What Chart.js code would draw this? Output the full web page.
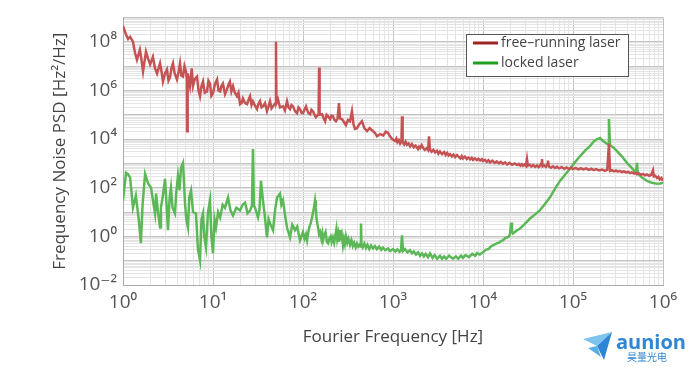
<!DOCTYPE html>
<html>
<head>
<meta charset="utf-8">
<script src="https://cdn.jsdelivr.net/npm/chart.js@4/dist/chart.umd.min.js"></script>
<style>
  html, body { margin: 0; padding: 0; background: #fff; }
  #wrap { width: 692px; height: 371px; }
</style>
</head>
<body>
<div id="wrap"><canvas id="psd-chart" width="692" height="371"></canvas></div>
<script>
// free-running laser (Hz, Hz^2/Hz)
const freqFree = [
    1, 1.08, 1.14, 1.2, 1.29, 1.36, 1.43, 1.54, 1.6, 1.67,
    1.8, 1.9, 2.0, 2.15, 2.27, 2.39, 2.58, 2.68, 2.78, 2.93,
    3.08, 3.2, 3.33, 3.45, 3.59, 3.75, 3.98, 4.15, 4.3, 4.45,
    4.64, 4.82, 5.01, 5.12, 5.15, 5.19, 5.27, 5.55, 5.8, 5.99,
    6.3, 6.64, 6.9, 7.17, 7.45, 7.74, 8.1, 8.58, 8.9, 9.26,
    9.6, 10, 10.5, 11.1, 11.5, 12.0, 12.4, 12.9, 13.6, 14.3,
    14.9, 15.4, 16.0, 16.7, 17.5, 18.5, 19.2, 20.0, 20.8, 21.5,
    22.7, 23.9, 24.8, 25.8, 26.8, 27.8, 29.2, 30.8, 32.0, 33.3,
    34.6, 35.9, 37.8, 39.8, 41.4, 43.0, 44.7, 46.4, 48.2, 49.5,
    50.1, 50.7, 52.7, 55.5, 59.9, 63.0, 66.4, 69.0, 71.7, 74.5,
    77.4, 81.5, 85.8, 89.0, 92.6, 96.2, 100, 104, 108, 114,
    120, 124, 129, 134, 139, 146, 149, 151, 153, 163,
    170, 176, 183, 190, 200, 207, 215, 224, 233, 242,
    251, 258, 271, 285, 300, 316, 333, 350, 364, 378,
    398, 420, 452, 480, 514, 550, 599, 630, 664, 720,
    780, 830, 880, 926, 980, 1052, 1090, 1120, 1160, 1200,
    1240, 1259, 1280, 1330, 1380, 1431, 1490, 1550, 1620, 1700,
    1780, 1896, 1950, 2000, 2080, 2154, 2250, 2350, 2450, 2512,
    2580, 2680, 2800, 2930, 3084, 3200, 3327, 3500, 3700, 3850,
    4000, 4150, 4300, 4500, 4700, 4900, 5140, 5350, 5600, 5800,
    5990, 6300, 6600, 6900, 7200, 7500, 7740, 8100, 8580, 8900,
    9300, 9700, 1.0e4, 1.05e4, 1.1e4, 1.15e4, 1.2e4, 1.27e4, 1.35e4, 1.42e4,
    1.5e4, 1.58e4, 1.67e4, 1.76e4, 1.85e4, 1.97e4, 2.1e4, 2.25e4, 2.39e4, 2.5e4,
    2.6e4, 2.7e4, 2.78e4, 2.9e4, 3.0e4, 3.08e4, 3.15e4, 3.3e4, 3.45e4, 3.6e4,
    3.8e4, 3.98e4, 4.15e4, 4.3e4, 4.45e4, 4.52e4, 4.6e4, 4.8e4, 5.0e4, 5.15e4,
    5.27e4, 5.4e4, 5.7e4, 6.0e4, 6.3e4, 6.64e4, 7.0e4, 7.5e4, 8.0e4, 8.5e4,
    9.0e4, 9.5e4, 1.0e5, 1.07e5, 1.15e5, 1.22e5, 1.3e5, 1.4e5, 1.5e5, 1.6e5,
    1.7e5, 1.8e5, 1.95e5, 2.1e5, 2.25e5, 2.4e5, 2.51e5, 2.58e5, 2.7e5, 2.85e5,
    3.0e5, 3.15e5, 3.3e5, 3.5e5, 3.7e5, 3.9e5, 4.1e5, 4.3e5, 4.5e5, 4.8e5,
    5.0e5, 5.14e5, 5.4e5, 5.7e5, 6.0e5, 6.3e5, 6.64e5, 7.0e5, 7.4e5, 7.74e5,
    7.9e5, 8.2e5, 8.58e5, 8.9e5, 9.2e5, 9.6e5, 1.0e6
];
const psdFree = [
    4.5e8, 2.0e8, 1.3e8, 1.6e8, 1.0e8, 3.5e7, 1.8e7, 4.7e7, 2.0e7, 6.0e6,
    3.9e7, 2.0e7, 1.15e7, 2.4e7, 8.0e6, 4.9e6, 1.3e7, 6.0e6, 2.3e6, 5.0e6,
    7.2e6, 2.5e6, 3.4e6, 8.0e6, 1.3e7, 5.0e6, 2.8e6, 6.0e6, 1.3e7, 4.0e6,
    3.7e6, 1.0e7, 6.0e6, 3.0e6, 2.1e4, 2.5e6, 4.9e6, 1.5e6, 8.0e6, 1.5e6,
    3.0e6, 3.7e6, 1.0e6, 5.7e5, 1.5e6, 2.3e6, 8.0e5, 9.1e5, 2.5e6, 1.9e6,
    6.0e5, 7.6e5, 1.8e6, 2.8e6, 1.0e6, 9.1e5, 1.5e6, 1.9e6, 7.0e5, 1.1e6,
    1.8e6, 2.3e6, 9.0e5, 1.5e6, 8.0e5, 5.7e5, 8.0e5, 2.7e5, 3.0e5, 4.7e5,
    3.0e5, 2.7e5, 4.0e5, 5.7e5, 2.5e5, 3.6e5, 2.4e5, 1.7e5, 2.8e5, 3.6e5,
    2.0e5, 2.2e5, 3.0e5, 1.4e5, 2.2e5, 3.6e5, 1.8e5, 2.2e5, 2.7e5, 3.0e5,
    1.0e8, 3.0e5, 4.3e5, 2.0e5, 2.2e5, 1.5e5, 3.6e5, 2.0e5, 1.7e5, 2.5e5,
    2.2e5, 1.4e5, 1.15e5, 2.0e5, 1.7e5, 1.2e5, 1.15e5, 1.6e5, 2.2e5, 1.2e5,
    1.05e5, 1.6e5, 1.4e5, 1.0e5, 7.9e4, 1.0e5, 1.1e5, 8.7e6, 1.0e5, 1.05e5,
    7.0e4, 5.4e4, 1.0e5, 8.7e4, 6.6e4, 9.0e4, 8.7e4, 6.0e4, 5.4e4, 7.0e4,
    3.0e5, 7.0e4, 6.6e4, 5.0e4, 3.7e4, 6.0e4, 5.4e4, 1.4e5, 4.0e4, 2.6e4,
    2.8e4, 4.0e4, 5.4e4, 2.8e4, 2.1e4, 2.8e4, 2.1e4, 1.8e4, 1.3e4, 1.6e4,
    1.4e4, 2.0e4, 1.8e4, 1.3e4, 1.0e4, 8.3e3, 1.05e4, 7.5e3, 9.0e3, 6.5e3,
    8.0e3, 8.7e4, 7.5e3, 6.0e3, 7.8e3, 5.8e3, 6.6e3, 5.0e3, 6.2e3, 4.6e3,
    5.4e3, 3.9e3, 4.8e3, 4.3e3, 5.6e3, 4.4e3, 3.6e3, 4.2e3, 3.5e3, 1.3e4,
    3.6e3, 3.0e3, 3.6e3, 2.8e3, 3.3e3, 2.5e3, 3.1e3, 2.4e3, 2.9e3, 2.2e3,
    2.7e3, 2.1e3, 2.4e3, 1.9e3, 2.3e3, 1.8e3, 2.2e3, 1.9e3, 1.6e3, 2.0e3,
    1.6e3, 1.9e3, 1.5e3, 1.75e3, 1.45e3, 1.7e3, 1.4e3, 1.6e3, 1.35e3, 1.55e3,
    1.3e3, 1.5e3, 1.25e3, 1.4e3, 1.15e3, 1.35e3, 1.1e3, 1.3e3, 1.05e3, 1.2e3,
    1.0e3, 1.15e3, 9.5e2, 1.1e3, 9.0e2, 1.05e3, 8.8e2, 1.0e3, 8.5e2, 9.5e2,
    8.0e2, 9.2e2, 8.0e2, 9.0e2, 7.8e2, 1.5e3, 8.0e2, 8.8e2, 7.4e2, 8.5e2,
    7.2e2, 8.2e2, 7.0e2, 8.0e2, 1.0e3, 1.5e3, 7.5e2, 8.2e2, 7.2e2, 9.0e2,
    1.3e3, 7.4e2, 6.6e2, 7.5e2, 6.4e2, 7.2e2, 6.2e2, 7.0e2, 6.0e2, 6.8e2,
    5.9e2, 6.6e2, 5.8e2, 6.5e2, 5.7e2, 6.3e2, 5.6e2, 6.2e2, 5.4e2, 6.0e2,
    5.3e2, 5.8e2, 5.1e2, 5.6e2, 4.9e2, 5.4e2, 6.3e3, 4.9e2, 5.3e2, 4.7e2,
    5.1e2, 4.6e2, 4.9e2, 4.4e2, 4.7e2, 4.2e2, 4.5e2, 4.0e2, 4.3e2, 3.8e2,
    4.1e2, 3.6e2, 3.9e2, 3.4e2, 3.7e2, 3.2e2, 3.5e2, 3.1e2, 3.4e2, 5.2e2,
    2.9e2, 3.1e2, 2.5e2, 2.8e2, 2.2e2, 2.5e2, 1.9e2
];

// locked laser
const freqLocked = [
    1, 1.08, 1.14, 1.2, 1.29, 1.39, 1.5, 1.58, 1.65, 1.76,
    1.9, 2.05, 2.15, 2.27, 2.33, 2.45, 2.58, 2.64, 2.78, 2.93,
    3.05, 3.16, 3.3, 3.41, 3.55, 3.78, 3.9, 4.08, 4.25, 4.41,
    4.64, 4.89, 5.05, 5.27, 5.45, 5.7, 6.0, 6.47, 6.8, 7.17,
    7.45, 7.74, 8.0, 8.36, 8.8, 9.26, 9.6, 10, 10.4, 10.8,
    11.4, 12.0, 12.8, 13.6, 14.7, 15.6, 16.7, 18.2, 20.0, 21.3,
    22.7, 24.2, 25.8, 27.1, 27.8, 28.5, 29.3, 31.6, 32.8, 34.1,
    35.9, 37.5, 39.8, 41.5, 43.0, 46.4, 49.0, 51.4, 55.5, 57.5,
    59.9, 63.0, 66.4, 71.7, 76.0, 81.5, 86.0, 92.6, 100, 104,
    108, 111, 115, 118, 122, 126, 131, 136, 139, 141,
    144, 147, 151, 155, 160, 164, 167, 172, 178, 184,
    190, 196, 203, 208, 215, 222, 228, 235, 240, 246,
    252, 258, 264, 270, 278, 285, 292, 300, 310, 320,
    333, 345, 358, 370, 385, 398, 412, 425, 436, 441,
    446, 460, 480, 500, 520, 545, 570, 599, 630, 660,
    700, 740, 774, 820, 880, 930, 1000, 1060, 1120, 1180,
    1227, 1259, 1292, 1360, 1450, 1540, 1620, 1700, 1800, 1900,
    1995, 2100, 2200, 2300, 2450, 2578, 2750, 2900, 3100, 3327,
    3500, 3700, 3900, 4200, 4642, 5000, 5300, 5700, 5990, 6400,
    7000, 7600, 8200, 8580, 9200, 1.0e4, 1.07e4, 1.15e4, 1.22e4, 1.29e4,
    1.4e4, 1.5e4, 1.6e4, 1.67e4, 1.76e4, 1.85e4, 1.95e4, 2.0e4, 2.05e4, 2.1e4,
    2.15e4, 2.35e4, 2.58e4, 2.9e4, 3.33e4, 3.8e4, 4.3e4, 4.9e4, 5.55e4, 6.3e4,
    7.17e4, 8.2e4, 9.26e4, 1.05e5, 1.2e5, 1.37e5, 1.55e5, 1.7e5, 1.85e5, 2.0e5,
    2.15e5, 2.3e5, 2.45e5, 2.51e5, 2.58e5, 2.8e5, 3.08e5, 3.5e5, 3.98e5, 4.5e5,
    5.0e5, 5.14e5, 5.25e5, 5.8e5, 6.64e5, 7.5e5, 8.58e5, 9.3e5, 1.0e6
];
const psdLocked = [
    30, 410, 350, 260, 15, 47, 4.5, 0.52, 20, 370,
    150, 100, 30, 8.7, 57, 10, 2.3, 15, 50, 230,
    20, 1.8, 40, 100, 15, 8.7, 60, 310, 80, 660,
    1050, 22, 5, 2.3, 40, 76, 10, 8.7, 0.3, 0.105,
    5, 8.7, 1.0, 0.36, 10, 30, 1.0, 0.2, 5, 2.3,
    10, 6.0, 20, 15, 39, 12, 7.2, 15, 11.5, 20,
    24, 9, 11.5, 18, 3900, 18, 15, 6.0, 12, 190,
    30, 8, 0.91, 5, 3.4, 1.8, 12, 39, 57, 20,
    30, 8, 2.3, 0.91, 3, 1.8, 2.5, 0.69, 1.5, 0.8,
    1.2, 0.7, 1.6, 2.5, 3.5, 6.0, 12, 30, 15, 6,
    3.5, 2.3, 1.2, 1.5, 0.8, 1.3, 0.7, 1.1, 1.5, 0.6,
    0.52, 0.8, 1.0, 0.6, 0.91, 0.55, 1.0, 2.0, 0.8, 1.3,
    0.6, 1.8, 0.7, 1.1, 0.43, 0.8, 0.5, 1.0, 0.55, 0.8,
    0.45, 0.7, 0.4, 0.55, 0.35, 0.5, 0.38, 0.45, 0.38, 3.4,
    0.45, 0.35, 0.5, 0.33, 0.45, 0.3, 0.42, 0.32, 0.4, 0.3,
    0.38, 0.28, 0.35, 0.27, 0.32, 0.25, 0.3, 0.24, 0.29, 0.23,
    0.27, 1.1, 0.25, 0.3, 0.22, 0.27, 0.2, 0.24, 0.18, 0.22,
    0.16, 0.2, 0.15, 0.19, 0.14, 0.2, 0.13, 0.17, 0.12, 0.16,
    0.12, 0.15, 0.12, 0.16, 0.12, 0.15, 0.12, 0.16, 0.13, 0.17,
    0.14, 0.19, 0.16, 0.21, 0.18, 0.22, 0.28, 0.3, 0.38, 0.43,
    0.5, 0.55, 0.65, 0.69, 0.85, 0.9, 1.0, 1.3, 3.7, 1.6,
    1.3, 1.7, 2.1, 3.2, 5.4, 8, 12, 22, 40, 90,
    190, 350, 600, 1100, 2000, 3400, 5200, 8000, 1.0e4, 1.1e4,
    8300, 7000, 6000, 6.6e4, 5500, 4500, 3200, 1900, 1050, 650,
    410, 1050, 380, 270, 190, 160, 145, 150, 160
];

const xDecades = [0, 1, 2, 3, 4, 5, 6];
const yDecades = [-2, -1, 0, 1, 2, 3, 4, 5, 6, 7, 8, 9];
const yLabelled = [-2, 0, 2, 4, 6, 8];

const legendLabels = ['free\u2013running laser', 'locked laser'];

const sup = {'0': '\u2070', '1': '\u00b9', '2': '\u00b2', '3': '\u00b3', '4': '\u2074', '5': '\u2075',
    '6': '\u2076', '7': '\u2077', '8': '\u2078', '9': '\u2079', '-': '\u207b'};
function pow10Label(v) {
    const e = Math.round(Math.log10(v));
    return '10' + String(e).split('').map(c => sup[c]).join('');
}
function isDecade(v) {
    return Math.abs(Math.log10(v) - Math.round(Math.log10(v))) < 1e-6;
}
function gridTicks(decades) {
    const out = [];
    decades.forEach((d, i) => {
        const last = i === decades.length - 1;
        for (let m = 1; m <= (last ? 1 : 9); m++) out.push({value: m * Math.pow(10, d)});
    });
    return out;
}

const FONT = "'Open Sans', 'DejaVu Sans', sans-serif";

const legendBox = {
    id: 'legendBox',
    afterDatasetsDraw(chart) {
        const ctx = chart.ctx;
        ctx.save();
        ctx.fillStyle = '#fff';
        ctx.fillRect(466, 34, 162, 42);
        ctx.strokeStyle = '#555';
        ctx.lineWidth = 1;
        ctx.strokeRect(466.5, 34.5, 162, 42);
        const cols = ['#9e2424', '#1f9e1f'];
        [43, 63].forEach((y, i) => {
            ctx.strokeStyle = cols[i];
            ctx.lineWidth = 3;
            ctx.beginPath();
            ctx.moveTo(473, y);
            ctx.lineTo(498, y);
            ctx.stroke();
            ctx.fillStyle = '#444';
            ctx.font = '14px ' + FONT;
            ctx.textBaseline = 'middle';
            ctx.fillText(legendLabels[i], 501, y);
        });
        ctx.restore();
    }
};

const watermark = {
    id: 'watermark',
    afterDraw(chart) {
        const ctx = chart.ctx;
        ctx.save();
        ctx.fillStyle = '#7cc4ee';
        ctx.beginPath();
        ctx.moveTo(583, 339);
        ctx.lineTo(612, 332);
        ctx.lineTo(597, 346);
        ctx.closePath();
        ctx.fill();
        ctx.fillStyle = '#2b86d6';
        ctx.beginPath();
        ctx.moveTo(612, 332);
        ctx.lineTo(604, 360);
        ctx.lineTo(597, 346);
        ctx.closePath();
        ctx.fill();
        ctx.fillStyle = '#5aaee6';
        ctx.beginPath();
        ctx.moveTo(588, 348);
        ctx.lineTo(597, 346);
        ctx.lineTo(601, 357);
        ctx.closePath();
        ctx.fill();
        ctx.fillStyle = '#2e86d4';
        ctx.font = 'bold 20px ' + FONT;
        ctx.textBaseline = 'alphabetic';
        ctx.fillText('aunion', 616, 349);
        ctx.font = '10px "Noto Sans CJK SC", sans-serif';
        ctx.fillText('昊量光电', 627, 361);
        ctx.restore();
    }
};

const gridColor = ctx => (ctx.tick && isDecade(ctx.tick.value)) ? '#c4c4c4' : '#e4e4e4';

new Chart(document.getElementById('psd-chart'), {
    type: 'scatter',
    data: {
        datasets: [{
            label: legendLabels[0],
            data: freqFree.map((f, i) => ({x: f, y: psdFree[i]})),
            borderColor: '#c65353',
            borderWidth: 2.5,
            showLine: true,
            pointRadius: 0,
            tension: 0
        }, {
            label: legendLabels[1],
            data: freqLocked.map((f, i) => ({x: f, y: psdLocked[i]})),
            borderColor: '#5cb857',
            borderWidth: 2.5,
            showLine: true,
            pointRadius: 0,
            tension: 0
        }]
    },
    options: {
        responsive: false,
        animation: false,
        layout: {padding: {left: 50, right: 29, top: 15, bottom: 24}},
        plugins: {legend: {display: false}, tooltip: {enabled: false}},
        scales: {
            x: {
                type: 'logarithmic',
                min: 1,
                max: 1e6,
                afterBuildTicks: s => { s.ticks = gridTicks(xDecades); },
                afterFit: s => { s.height = 62; },
                grid: {color: gridColor, drawTicks: false},
                border: {color: '#aaa'},
                ticks: {
                    autoSkip: false,
                    maxRotation: 0,
                    padding: 6,
                    color: '#555',
                    font: {family: FONT, size: 19},
                    callback: v => isDecade(v) ? pow10Label(v) : ''
                },
                title: {
                    display: true,
                    text: 'Fourier Frequency [Hz]',
                    color: '#444',
                    padding: 0,
                    font: {family: FONT, size: 17}
                }
            },
            y: {
                type: 'logarithmic',
                min: 1e-2,
                max: 1e9,
                afterBuildTicks: s => { s.ticks = gridTicks(yDecades); },
                afterFit: s => { s.width = 73; },
                grid: {color: gridColor, drawTicks: false},
                border: {color: '#aaa'},
                ticks: {
                    autoSkip: false,
                    padding: 6,
                    color: '#555',
                    font: {family: FONT, size: 19},
                    callback: v => (isDecade(v) && yLabelled.includes(Math.round(Math.log10(v)))) ? pow10Label(v) : ''
                },
                title: {
                    display: true,
                    text: 'Frequency Noise PSD [Hz\u00b2/Hz]',
                    color: '#444',
                    padding: 0,
                    font: {family: FONT, size: 17}
                }
            }
        }
    },
    plugins: [legendBox, watermark]
});
</script>
</body>
</html>
